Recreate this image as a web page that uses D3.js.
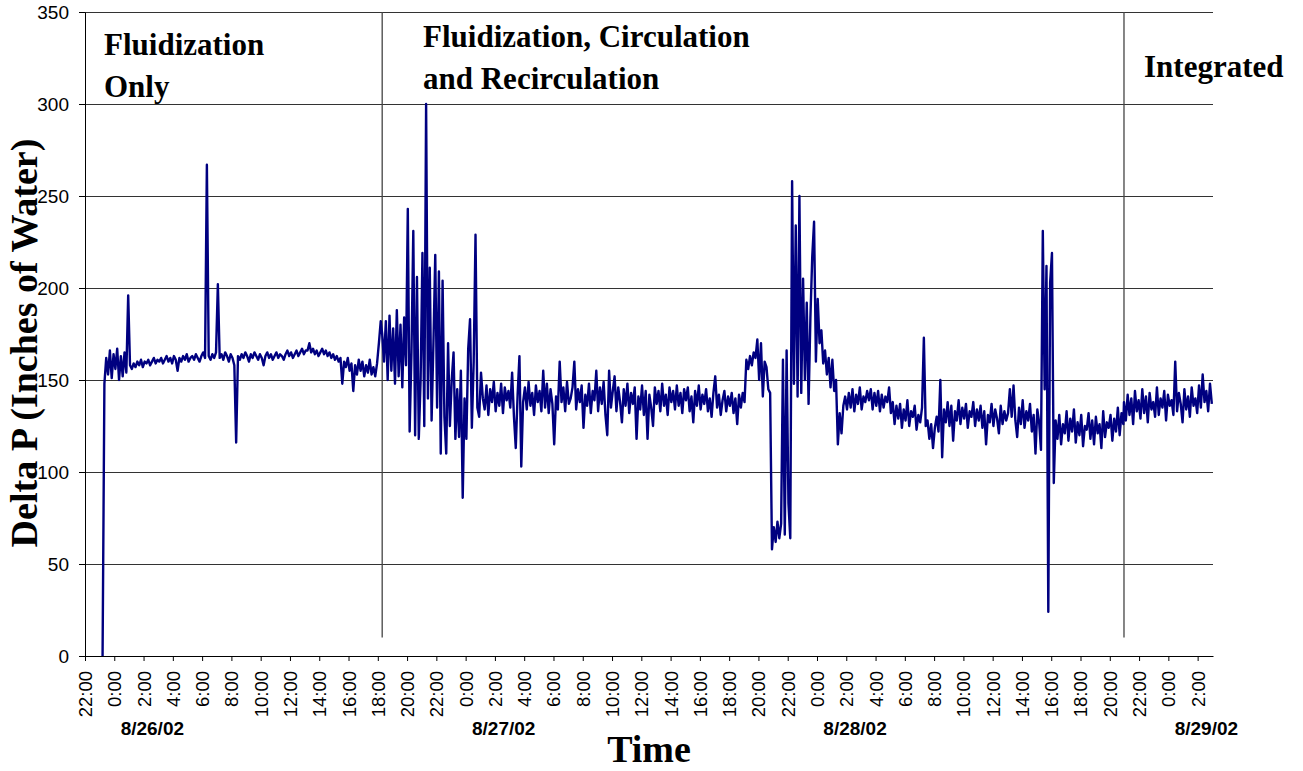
<!DOCTYPE html>
<html>
<head>
<meta charset="utf-8">
<script src="https://cdn.jsdelivr.net/npm/d3@7"></script>
<style>
body { margin: 0; background: #fff; }
svg { display: block; }
</style>
</head>
<body>
<svg id="chart" width="1303" height="771"></svg>
<script>
// time axis runs from 8/25/02 22:00 to just past 3:00 on 8/29/02
var startTime = new Date(2002, 7, 25, 22, 0);
var endTime = new Date(2002, 7, 29, 3, 3);
var stepMinutes = 7.5;

// phase start, in hours after startTime
var fluidStartHr = 1.2,
    circStartHr = 20.3,
    integStartHr = 70.97;

var yTicks = [0, 50, 100, 150, 200, 250, 300, 350];
var dateLabels = ["8/26/02", "8/27/02", "8/28/02", "8/29/02"];
var dateLabelDays = [new Date(2002, 7, 26), new Date(2002, 7, 27), new Date(2002, 7, 28), new Date(2002, 7, 29)];
var phaseLabels = [["Fluidization", "Only"], ["Fluidization, Circulation", "and Recirculation"], ["Integrated"]];

// Delta P readings (inches of water), one every 7.5 min
var fluidOnly = [0, 148,
  162, 153, 166, 151, 164, 156, 167, 150, 163, 152, 165, 154,
  196,
  158, 156, 159, 157, 160, 158, 161, 157, 160, 159, 161, 158, 160, 162, 159, 161,
  160, 162, 159, 161, 163, 160, 162, 159, 163, 161, 155, 162, 160, 163, 161, 164, 160, 162, 163, 161,
  164, 162, 160, 163, 165, 162,
  267,
  163, 161, 164, 162, 165,
  202,
  162, 164, 161, 165, 163, 160, 164, 162, 158,
  116,
  163, 161, 164, 162, 165, 163, 160, 164, 162, 165, 163, 161, 164, 162, 158, 163, 165, 162, 164, 161,
  163, 165, 162, 164, 163, 161, 164, 166, 163, 165, 162, 164, 166, 163, 165, 167, 164, 166,
  166, 170,
  165, 167, 164, 166, 163, 165, 167, 164, 166, 163, 165, 162, 164, 161, 163, 160, 162,
  148,
  160, 157, 162, 155, 159,
  144,
  158, 153, 161, 155, 160, 152, 158, 154, 161, 153, 157, 152, 159,
  170, 182];

var fluidCirc = [
  175, 160, 182, 150, 185, 155, 178, 148, 188, 152, 180, 146, 184, 158,
  243, 122, 165, 231, 120, 206, 118, 150, 219, 125, 300, 140, 211, 128, 170, 218, 135, 209, 110, 204,
  130, 110, 170, 125, 150, 165, 118, 145, 119, 155, 86, 140, 118, 167, 183, 124, 160, 229, 135, 130, 154,
  140, 134, 147, 131, 145, 138, 149, 133, 143, 136, 148, 132, 146, 139, 144, 135,
  154, 130, 113, 142, 163, 103, 138,
  146, 134, 149, 136, 143, 131, 147, 138, 144, 133,
  155, 135, 148, 132, 145, 137, 115, 141, 134, 160, 138,
  146, 133, 149, 137,
  140, 146, 160, 134, 145, 138, 147, 124, 142, 136,
  148, 132, 144, 139, 155, 133, 146, 137, 149, 131,
  120, 155, 135, 144, 152, 133, 146, 138, 127, 145,
  136, 148, 132, 143, 137, 146, 118, 141, 134, 147,
  131, 144, 118, 142, 135, 125, 146, 137, 144, 133,
  148, 136, 142, 131, 146, 138, 144, 134, 147, 136,
  143, 132, 145, 139, 146, 133, 141, 127, 144, 136,
  147, 134, 142, 137, 145, 133, 140, 130, 143, 152,
  135, 142, 131, 139, 144, 133, 141, 136, 143, 132,
  140, 126, 142, 135, 143, 138,
  161, 156, 163, 158, 165, 162, 172, 150, 170, 141,
  160, 157, 145, 143, 58, 70, 62, 73, 64, 72,
  161, 66, 166, 83, 64, 258, 148, 234, 141, 250,
  143, 205, 150, 192, 137, 184, 217, 236, 160, 194,
  170, 177, 159, 166, 153, 162, 146, 161, 144, 150,
  115, 132, 121, 136, 141, 134,
  143, 135, 145, 133, 142, 137, 146, 134, 141, 138, 144,
  139, 145, 134, 143, 136, 144, 133, 142, 135, 141, 138,
  146,
  132, 138, 126, 136, 129, 137, 124, 134, 128, 139, 125, 133, 130, 136, 123, 131, 127,
  135, 173, 125, 128, 118, 126, 113, 124, 130, 122, 150, 108,
  134, 127, 138, 125, 136, 117, 133, 128, 139, 126, 135, 129, 137, 124, 133, 130, 138, 125,
  134, 128, 136, 124, 133, 115, 131, 127, 137, 125, 134, 129, 121, 136, 126, 133, 128,
  132, 145, 130, 147, 128, 119,
  135, 126, 139, 124, 133, 128, 137, 122, 131, 110, 134, 127, 112,
  231, 145, 212, 24, 203, 219, 94,
  128, 118, 131, 115, 126, 121, 133, 117, 129, 122, 134, 116, 127, 120, 131, 114, 125, 123, 132, 118,
  128, 115, 130, 121, 126, 113, 133, 119, 127, 124, 131, 117, 129, 122, 135, 120, 132, 126];

var integrated = [
  138, 128, 142, 131, 140, 126, 144, 133, 139, 129, 145, 132, 141, 127, 143, 134, 138, 130, 146, 131,
  140, 135, 144, 128, 142, 136, 139, 131, 160, 133, 143, 137, 127, 145, 134, 141, 130, 146, 136, 140,
  132, 147, 135, 153, 138, 144, 133, 148, 137];

var margin = {top: 12, right: 90, bottom: 115, left: 85},
    width = 1303 - margin.left - margin.right,
    height = 771 - margin.top - margin.bottom;

var serif = "'Times New Roman', 'Liberation Serif', serif",
    sans = "Arial, 'Liberation Sans', sans-serif";

function hoursToDate(h) {
    return new Date(+startTime + h * 3600000);
}

function toPoints(startHr, vals) {
    return vals.map(function(v, i) {
        return {date: hoursToDate(startHr + i * stepMinutes / 60), val: v};
    });
}

var series = toPoints(fluidStartHr, fluidOnly)
    .concat(toPoints(circStartHr, fluidCirc), toPoints(integStartHr, integrated));

var x = d3.scaleTime().domain([startTime, endTime]).range([0, width]),
    y = d3.scaleLinear().domain([0, 350]).range([height, 0]);

var svg = d3.select("#chart");
var g = svg.append("g")
    .attr("transform", "translate(" + margin.left + "," + margin.top + ")");

// horizontal gridlines
g.append("g").attr("class", "grid")
  .selectAll("line")
    .data(yTicks.filter(function(t) { return t > 0; }))
  .enter().append("line")
    .attr("x1", 0)
    .attr("x2", width)
    .attr("y1", function(d) { return y(d); })
    .attr("y2", function(d) { return y(d); })
    .attr("stroke", "#333")
    .attr("stroke-width", 1)
    .attr("shape-rendering", "crispEdges");

// phase boundaries
g.append("g").attr("class", "phase-lines")
  .selectAll("line")
    .data([circStartHr, integStartHr])
  .enter().append("line")
    .attr("x1", function(d) { return x(hoursToDate(d)); })
    .attr("x2", function(d) { return x(hoursToDate(d)); })
    .attr("y1", y(350))
    .attr("y2", y(10))
    .attr("stroke", "#444")
    .attr("stroke-width", 1.3);

var line = d3.line()
    .x(function(d) { return x(d.date); })
    .y(function(d) { return y(d.val); });

g.append("path")
    .datum(series)
    .attr("fill", "none")
    .attr("stroke", "#000080")
    .attr("stroke-width", 2.4)
    .attr("stroke-linejoin", "round")
    .attr("d", line);

// axes
var yAxis = d3.axisLeft(y).tickValues(yTicks).tickSize(6).tickSizeOuter(0).tickPadding(10);
var yg = g.append("g").attr("class", "y axis").call(yAxis);
yg.attr("font-size", 19).attr("font-family", sans);
yg.selectAll("text").attr("fill", "#000");
yg.selectAll("line, path").attr("stroke", "#000");

var xAxis = d3.axisBottom(x)
    .ticks(d3.timeHour.every(2))
    .tickFormat(d3.timeFormat("%-H:%M"))
    .tickSize(5)
    .tickSizeOuter(0);
var xg = g.append("g").attr("class", "x axis")
    .attr("transform", "translate(0," + height + ")")
    .call(xAxis);
xg.attr("font-size", 18.5).attr("font-family", sans);
xg.selectAll("line, path").attr("stroke", "#000");
xg.selectAll("text")
    .attr("fill", "#000")
    .attr("transform", "rotate(-90)")
    .attr("x", -15)
    .attr("y", 0)
    .attr("dy", "0.35em")
    .style("text-anchor", "end");

// day labels under the hour ticks
g.append("g").selectAll("text")
    .data(dateLabels)
  .enter().append("text")
    .attr("x", function(d, i) { return x(new Date(+dateLabelDays[i] + 2.6 * 3600000)); })
    .attr("y", height + 79)
    .attr("text-anchor", "middle")
    .attr("font-family", sans)
    .attr("font-weight", "bold")
    .attr("font-size", 19)
    .text(function(d) { return d; });

// phase annotations
var phasePos = [[19, 43], [338, 35], [1059, 65]];
phaseLabels.forEach(function(lines, i) {
    var t = g.append("text")
        .attr("font-family", serif)
        .attr("font-weight", "bold")
        .attr("font-size", 31);
    lines.forEach(function(s, j) {
        t.append("tspan")
            .attr("x", phasePos[i][0])
            .attr("y", phasePos[i][1] + j * 42)
            .text(s);
    });
});

// titles
svg.append("text")
    .attr("transform", "translate(37,343) rotate(-90)")
    .attr("text-anchor", "middle")
    .attr("font-family", serif)
    .attr("font-weight", "bold")
    .attr("font-size", 38)
    .text("Delta P (Inches of Water)");

svg.append("text")
    .attr("x", margin.left + width / 2)
    .attr("y", 762)
    .attr("text-anchor", "middle")
    .attr("font-family", serif)
    .attr("font-weight", "bold")
    .attr("font-size", 38)
    .text("Time");
</script>
</body>
</html>
